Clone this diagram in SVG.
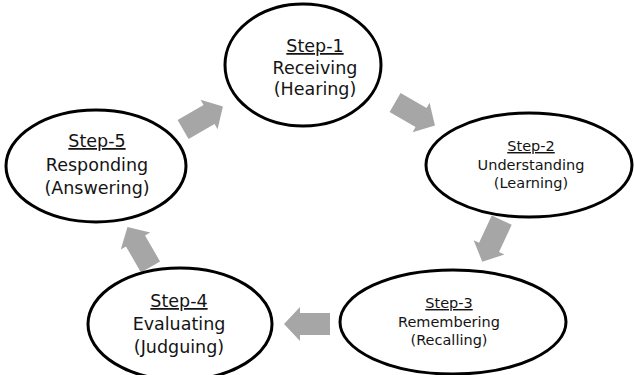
<svg xmlns="http://www.w3.org/2000/svg" xmlns:xlink="http://www.w3.org/1999/xlink" width="634" height="375" viewBox="0 0 634 375">
<style>
.node ellipse{fill:#fff;stroke:#000;stroke-width:3}
.t{font-family:"DejaVu Sans","Open Sans",sans-serif;fill:#141414;text-anchor:middle}
.big{font-size:17.5px}
.small{font-size:14.5px}
.u{text-decoration:underline}
.arrow{fill:#a6a6a6}
</style>
<defs>
<polygon id="blk" points="-23,-11 7,-11 7,-17 23,0 7,17 7,11 -23,11"/>
</defs>
<rect width="634" height="375" fill="#fff"/>
<g id="connectors" class="arrow">
<use xlink:href="#blk" href="#blk" transform="translate(415,114) rotate(30)"/>
<use xlink:href="#blk" href="#blk" transform="translate(492,241) rotate(115)"/>
<use xlink:href="#blk" href="#blk" transform="translate(307,324) rotate(180)"/>
<use xlink:href="#blk" href="#blk" transform="translate(139,247) rotate(240)"/>
<use xlink:href="#blk" href="#blk" transform="translate(203,118) rotate(-30)"/>
</g>
<g id="step1" class="node">
<ellipse cx="303" cy="65" rx="78" ry="61"/>
<text class="t big u" x="315" y="52">Step-1</text>
<text class="t big" x="315" y="74">Receiving</text>
<text class="t big" x="315" y="95">(Hearing)</text>
</g>
<g id="step2" class="node">
<ellipse cx="529" cy="165" rx="103" ry="52"/>
<text class="t small u" x="531" y="151">Step-2</text>
<text class="t small" x="531" y="170">Understanding</text>
<text class="t small" x="531" y="188">(Learning)</text>
</g>
<g id="step3" class="node">
<ellipse cx="453" cy="322" rx="113" ry="52"/>
<text class="t small u" x="449" y="308">Step-3</text>
<text class="t small" x="449" y="327">Remembering</text>
<text class="t small" x="449" y="345">(Recalling)</text>
</g>
<g id="step4" class="node">
<ellipse cx="180" cy="324" rx="92" ry="56"/>
<text class="t big u" x="179" y="307">Step-4</text>
<text class="t big" x="179" y="330">Evaluating</text>
<text class="t big" x="179" y="353">(Judguing)</text>
</g>
<g id="step5" class="node">
<ellipse cx="96" cy="166" rx="90" ry="56"/>
<text class="t big u" x="97" y="147">Step-5</text>
<text class="t big" x="97" y="171">Responding</text>
<text class="t big" x="97" y="194">(Answering)</text>
</g>
</svg>
